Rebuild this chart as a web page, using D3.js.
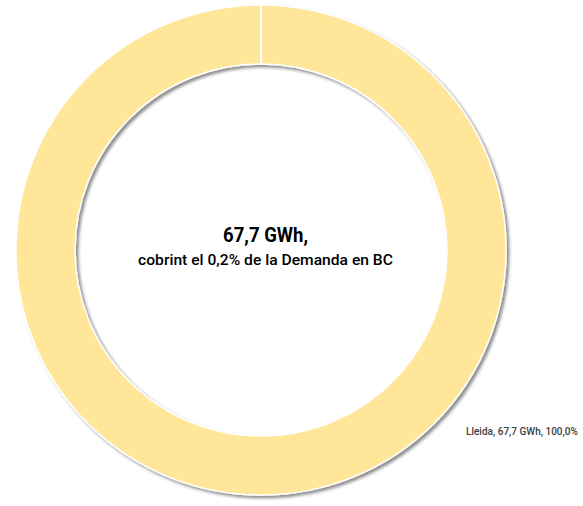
<!DOCTYPE html>
<html><head><meta charset="utf-8">
<script src="https://cdn.jsdelivr.net/npm/d3@7"></script>
<style>body{margin:0;background:#fff}svg{display:block}</style>
</head><body>
<svg id="c" width="583" height="506"></svg>
<script>
const categories = ["Lleida"];
const values = [67.7];
const units = "GWh";
const centerTitle = "67,7 GWh,";
const centerSubtitle = "cobrint el 0,2% de la Demanda en BC";
const colors = ["#FFE699"];

const W = 583, H = 506, cx = 261, cy = 250, rOuter = 245, rInner = 186;
const svg = d3.select("#c");
const defs = svg.append("defs");
const f = defs.append("filter").attr("id","sh").attr("x","-10%").attr("y","-10%").attr("width","120%").attr("height","120%");
f.append("feDropShadow").attr("dx",2.5).attr("dy",2.5).attr("stdDeviation",1.8).attr("flood-color","#000").attr("flood-opacity",0.45);

const total = d3.sum(values);
const pie = d3.pie().sort(null).value(d => d);
const arc = d3.arc().innerRadius(rInner).outerRadius(rOuter);
const g = svg.append("g").attr("transform",`translate(${cx},${cy})`);
const arcs = pie(values);
g.selectAll("path").data(arcs).join("path")
  .attr("d", arc).attr("fill",(d,i)=>colors[i])
  .attr("stroke","#fff").attr("stroke-width",1.5)
  .attr("filter","url(#sh)");
g.selectAll("line.sep").data(arcs).join("line").attr("class","sep")
  .attr("x1", d => Math.sin(d.startAngle)*rInner).attr("y1", d => -Math.cos(d.startAngle)*rInner)
  .attr("x2", d => Math.sin(d.startAngle)*rOuter).attr("y2", d => -Math.cos(d.startAngle)*rOuter)
  .attr("stroke","#fff").attr("stroke-width",2);

const fam = "Roboto,'Liberation Sans',sans-serif";
// condensed look: scale text horizontally to a target width
function fitText(sel, x, y, width, anchor) {
  const w = sel.node().getComputedTextLength();
  const s = width / w;
  sel.attr("x", 0).attr("y", 0).attr("text-anchor", anchor)
     .attr("transform", `translate(${x},${y}) scale(${s},1)`);
}
fitText(svg.append("text").attr("font-family",fam).attr("font-weight",700).attr("font-size",20).attr("fill","#000").text(centerTitle),
  265.5, 242, 85, "middle");
fitText(svg.append("text").attr("font-family",fam).attr("font-weight",500).attr("font-size",15).attr("fill","#000").text(centerSubtitle),
  265.5, 264.5, 255, "middle");

const fmt = v => d3.format(",.1f")(v).replace(/\./,",");
svg.selectAll("text.lbl").data(arcs).join("text").attr("class","lbl")
  .attr("font-family",fam).attr("font-weight",500).attr("font-size",11.5).attr("fill","#404040")
  .text(d => `${categories[d.index]}, ${fmt(d.value)} ${units}, ${fmt(d.value/total*100)}%`)
  .each(function(){ fitText(d3.select(this), 466, 435, 112, "start"); });
</script>
</body></html>
